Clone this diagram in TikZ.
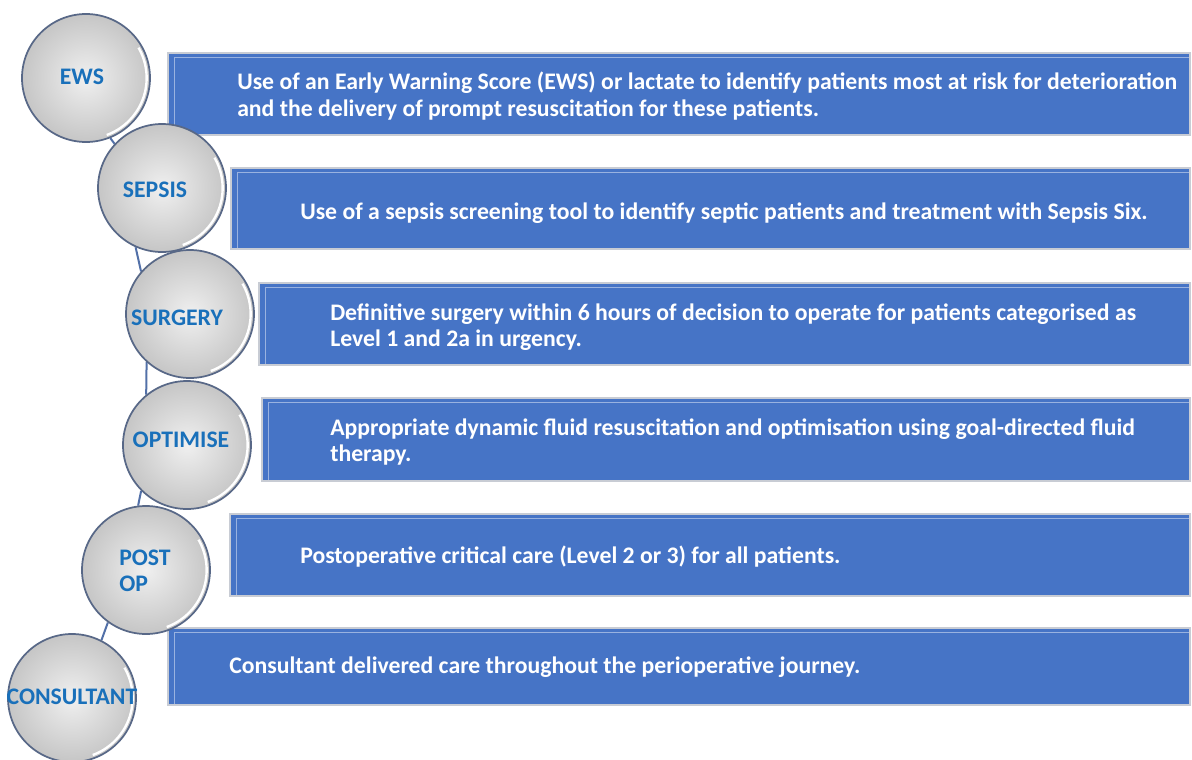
\documentclass[tikz,border=0pt]{standalone}
\usepackage{fontspec}
\setmainfont{Carlito}
\usepackage{tikz}
\usetikzlibrary{positioning,fit,backgrounds,calc}
\definecolor{boxblue}{RGB}{70,116,198}
\definecolor{boxedge}{RGB}{200,204,212}
\definecolor{circtext}{RGB}{25,112,186}
\definecolor{circedge}{RGB}{88,104,135}
\definecolor{chainline}{RGB}{82,112,168}
\tikzset{
	x=0.75pt,
	y=-0.75pt,
	every node/.style={font=\bfseries\fontsize{17.8}{19.8}\selectfont},
	stage/.style={circle, minimum size=96pt, inner sep=0pt,
		inner color=gray!12, outer color=gray!45,
		draw=circedge, line width=1.3pt, text=circtext,
		path picture={
			\draw[white, line width=1.8pt]
				($(path picture bounding box.center)+(-70:45.5pt)$)
				arc[start angle=-70, end angle=30, radius=45.5pt];
		}},
	txtbox/.style={rectangle, inner sep=0pt, fill=boxblue,
		draw=boxedge, line width=1.2pt,
		path picture={
			\draw[boxblue!55!white, line width=0.9pt]
				([xshift=5pt,yshift=1pt]path picture bounding box.south west)
				|- ([yshift=-3.5pt]path picture bounding box.north east);
			\draw[boxblue!60!black, line width=1.4pt]
				(path picture bounding box.south west)
				-- (path picture bounding box.south east)
				-- (path picture bounding box.north east);
		}},
	txt/.style={text=white, align=left, anchor=west, inner sep=0pt},
	link/.style={draw=chainline, line width=1.5pt},
}
\begin{document}
\begin{tikzpicture}
	\useasboundingbox (0,0) rectangle (1192,760);
	% boxes
	\node[txtbox, fit={(168,53) (1190,135)}] (b1) {};
	\node[txtbox, fit={(231,168) (1190,249)}] (b2) {};
	\node[txtbox, fit={(259,283) (1190,365)}] (b3) {};
	\node[txtbox, fit={(262,398) (1190,481)}] (b4) {};
	\node[txtbox, fit={(230,514) (1190,596)}] (b5) {};
	\node[txtbox, fit={(168,628) (1190,705)}] (b6) {};
	\node[txt] (t1) at (237,96) {Use of an Early Warning Score (EWS) or lactate to identify patients most at risk for deterioration\\and the delivery of prompt resuscitation for these patients.};
	\node[txt] (t2) at (300,213) {Use of a sepsis screening tool to identify septic patients and treatment with Sepsis Six.};
	\node[txt] (t3) at (330,327) {Definitive surgery within 6 hours of decision to operate for patients categorised as\\Level 1 and 2a in urgency.};
	\node[txt] (t4) at (330,442) {Appropriate dynamic fluid resuscitation and optimisation using goal-directed fluid\\therapy.};
	\node[txt] (t5) at (300,557) {Postoperative critical care (Level 2 or 3) for all patients.};
	\node[txt] (t6) at (229,667) {Consultant delivered care throughout the perioperative journey.};
	% stages
	\node[stage] (ews) at (86,78) {};
	\node[stage] (sepsis) at (162,188) {};
	\node[stage] (surgery) at (190,314) {};
	\node[stage] (optimise) at (187,445) {};
	\node[stage] (postop) at (146,570) {};
	\node[stage] (consultant) at (72,698) {};
	\node[text=circtext] (l1) at (82,77) {EWS};
	\node[text=circtext] (l2) at (155,190) {SEPSIS};
	\node[text=circtext] (l3) at (177,318) {SURGERY};
	\node[text=circtext] (l4) at (181,440) {OPTIMISE};
	\node[text=circtext, align=left] (l5) at (145,571) {POST\\OP};
	\node[text=circtext] (l6) at (72,697) {CONSULTANT};
	% chain
	\begin{scope}[on background layer]
		\draw[link] (ews.-68) -- (sepsis.137);
		\draw[link] (sepsis.-114) -- (surgery.139);
		\draw[link] (surgery.-132) -- (optimise.129);
		\draw[link] (optimise.-135) -- (postop.97);
		\draw[link] (postop.-126) -- (consultant.63);
	\end{scope}
\end{tikzpicture}
\end{document}
